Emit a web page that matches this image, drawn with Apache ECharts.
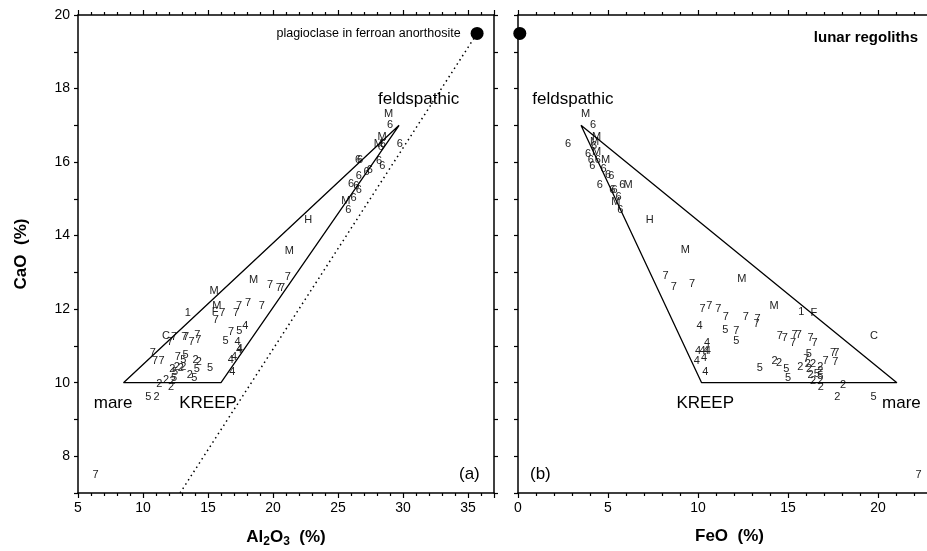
<!DOCTYPE html>
<html>
<head>
<meta charset="utf-8">
<script src="https://cdn.jsdelivr.net/npm/echarts@6/dist/echarts.min.js"></script>
<style>
  html, body { margin: 0; padding: 0; background: #fff; }
  #chart { width: 927px; height: 551px; }
</style>
</head>
<body>
<div id="chart"></div>
<script>
// (a) CaO vs Al2O3 : [Al2O3, CaO, sample code]
let leftPoints = [
    [28.9, 17.32, 'M'], [29.0, 17.02, '6'], [28.4, 16.68, 'M'], [28.1, 16.5, 'M'],
    [28.45, 16.5, '6'], [29.75, 16.48, '6'], [28.3, 16.4, '6'], [26.55, 16.07, '6'],
    [26.7, 16.07, '6'], [28.15, 16.03, '6'], [28.4, 15.9, '6'], [26.6, 15.62, '6'],
    [27.2, 15.74, '6'], [27.45, 15.78, '6'], [26.0, 15.4, '6'], [26.4, 15.34, '6'],
    [26.6, 15.24, '6'], [26.2, 15.03, '6'], [25.6, 14.94, 'M'], [25.8, 14.7, '6'],
    [22.7, 14.43, 'H'], [21.25, 13.58, 'M'], [18.5, 12.8, 'M'], [21.13, 12.88, '7'],
    [19.77, 12.67, '7'], [20.45, 12.58, '7'], [20.7, 12.58, '7'], [15.46, 12.49, 'M'],
    [13.44, 11.9, '1'], [15.67, 12.1, 'M'], [15.55, 11.92, 'F'], [16.1, 11.89, '7'],
    [15.6, 11.7, '7'], [17.38, 12.1, '7'], [18.08, 12.16, '7'], [19.13, 12.1, '7'],
    [17.15, 11.89, '7'], [16.77, 11.39, '7'], [17.4, 11.42, '5'], [17.87, 11.53, '4'],
    [16.36, 11.13, '5'], [17.28, 11.1, '4'], [17.38, 10.89, '4'], [17.45, 10.92, '4'],
    [16.75, 10.62, '4'], [17.0, 10.69, '4'], [16.87, 10.28, '4'], [11.77, 11.28, 'C'],
    [12.38, 11.25, '7'], [12.08, 11.12, '7'], [13.18, 11.25, '7'], [13.32, 11.25, '7'],
    [13.74, 11.1, '7'], [14.18, 11.3, '7'], [14.25, 11.17, '7'], [10.75, 10.8, '7'],
    [10.92, 10.6, '7'], [11.43, 10.6, '7'], [12.67, 10.69, '7'], [13.28, 10.76, '5'],
    [13.1, 10.62, '5'], [14.05, 10.63, '2'], [14.3, 10.57, '2'], [12.26, 10.37, '2'],
    [12.6, 10.42, '2'], [12.9, 10.4, '2'], [13.1, 10.44, '2'], [14.13, 10.37, '5'],
    [15.15, 10.4, '5'], [13.6, 10.22, '2'], [13.95, 10.14, '5'], [12.46, 10.28, '5'],
    [12.38, 10.14, '5'], [11.26, 9.96, '2'], [11.77, 10.07, '2'], [12.15, 9.89, '2'],
    [12.28, 10.05, '2'], [10.41, 9.6, '5'], [11.05, 9.6, '2'], [6.36, 7.48, '7']
];
// (b) CaO vs FeO : [FeO, CaO, sample code]
let rightPoints = [
    [3.76, 17.32, 'M'], [4.17, 17.02, '6'], [2.78, 16.48, '6'], [4.36, 16.68, 'M'],
    [4.26, 16.55, 'M'], [4.22, 16.44, '6'], [4.36, 16.28, 'M'], [3.89, 16.21, '6'],
    [4.04, 16.05, '6'], [4.13, 15.89, '6'], [4.44, 16.07, '6'], [4.87, 16.07, 'M'],
    [4.76, 15.8, '6'], [5.0, 15.64, '6'], [5.19, 15.62, '6'], [4.54, 15.39, '6'],
    [5.8, 15.39, '6'], [6.11, 15.37, 'M'], [5.24, 15.23, '6'], [5.36, 15.23, '6'],
    [5.59, 15.05, '6'], [5.43, 14.91, 'M'], [5.69, 14.69, '6'], [7.32, 14.43, 'H'],
    [9.3, 13.6, 'M'], [8.2, 12.89, '7'], [8.65, 12.6, '7'], [9.67, 12.69, '7'],
    [12.44, 12.83, 'M'], [14.22, 12.08, 'M'], [10.26, 12.0, '7'], [10.63, 12.08, '7'],
    [11.13, 12.0, '7'], [11.54, 11.79, '7'], [12.65, 11.79, '7'], [13.31, 11.72, '7'],
    [13.26, 11.59, '7'], [15.74, 11.92, '1'], [16.43, 11.9, 'F'], [10.09, 11.53, '4'],
    [11.52, 11.43, '5'], [12.13, 11.41, '7'], [12.13, 11.14, '5'], [14.54, 11.28, '7'],
    [14.82, 11.21, '7'], [15.37, 11.31, '7'], [15.6, 11.31, '7'], [15.28, 11.07, '7'],
    [16.26, 11.21, '7'], [16.48, 11.07, '7'], [19.78, 11.28, 'C'], [10.5, 11.08, '4'],
    [10.0, 10.85, '4'], [10.26, 10.85, '4'], [10.45, 10.87, '4'], [10.55, 10.85, '4'],
    [9.94, 10.6, '4'], [10.33, 10.67, '4'], [10.41, 10.28, '4'], [13.43, 10.39, '5'],
    [14.26, 10.6, '2'], [14.5, 10.55, '2'], [14.9, 10.37, '5'], [15.0, 10.14, '5'],
    [15.69, 10.42, '2'], [16.15, 10.78, '5'], [16.02, 10.65, '7'], [16.1, 10.51, '2'],
    [16.39, 10.51, '2'], [16.8, 10.44, '2'], [16.17, 10.37, '2'], [16.25, 10.22, '2'],
    [16.6, 10.24, '5'], [16.8, 10.33, '2'], [16.8, 10.19, '5'], [16.39, 10.05, '2'],
    [16.82, 9.89, '2'], [16.8, 10.05, '2'], [17.08, 10.6, '7'], [17.5, 10.8, '7'],
    [17.69, 10.8, '7'], [17.63, 10.57, '7'], [18.06, 9.93, '2'], [17.74, 9.6, '2'],
    [19.76, 9.62, '5'], [22.26, 7.49, '7']
];

// mixing triangles (feldspathic - mare - KREEP)
let leftTriangle = [[29.7, 17.0], [8.5, 10.0], [16.0, 10.0], [29.7, 17.0]];
let rightTriangle = [[3.5, 17.0], [10.2, 10.0], [21.05, 10.0], [3.5, 17.0]];
// plagioclase line in (a)
let plagLine = [[12.85, 7.0], [35.7, 19.5]];
let plagLeft = [[35.7, 19.5]];
let plagRight = [[0.1, 19.5]];

let leftNotes = [[31.2, 17.71, 'feldspathic'], [7.7, 9.43, 'mare'], [15.0, 9.43, 'KREEP']];
let rightNotes = [[3.05, 17.71, 'feldspathic'], [10.4, 9.45, 'KREEP'], [21.3, 9.45, 'mare']];

var chart = echarts.init(document.getElementById('chart'));
let sans = 'Liberation Sans, Arial, sans-serif';
let comic = 'Comic Sans MS, Liberation Sans, sans-serif';

let xAxisBase = function(grid, min, max, pos, labels) {
    return {
        type: 'value', gridIndex: grid, min: min, max: max, interval: 5, position: pos,
        axisLine: { show: true, onZero: false, lineStyle: { color: '#000', width: 1.5 } },
        axisTick: { show: true, inside: false, length: 5, lineStyle: { color: '#000', width: 1.2 } },
        minorTick: { show: true, splitNumber: 5, length: 3, lineStyle: { color: '#000', width: 1.2 } },
        splitLine: { show: false },
        axisLabel: {
            show: labels, margin: 8, fontSize: 14, color: '#000', fontFamily: sans,
            formatter: v => (v % 5 === 0 ? v : '')
        }
    };
};
let yAxisBase = function(grid, pos, labels) {
    return {
        type: 'value', gridIndex: grid, min: 7, max: 20, interval: 1, position: pos,
        axisLine: { show: true, onZero: false, lineStyle: { color: '#000', width: 1.5 } },
        axisTick: { show: true, inside: false, length: 4, lineStyle: { color: '#000', width: 1.2 } },
        splitLine: { show: false },
        axisLabel: {
            show: labels, margin: 8, fontSize: 14, color: '#000', fontFamily: sans,
            formatter: v => (v % 2 === 0 ? v : '')
        }
    };
};

let xa = xAxisBase(0, 5, 37, 'bottom', true);
xa.name = 'Al{sub|2}O{sub|3}  (%)';
xa.nameLocation = 'middle';
xa.nameGap = 33;
xa.nameTextStyle = {
    fontSize: 17, fontWeight: 'bold', color: '#000', fontFamily: sans,
    rich: { sub: { fontSize: 12, fontWeight: 'bold', fontFamily: sans, color: '#000', padding: [10, 0, 0, 0] } }
};
let xb = xAxisBase(1, 0, 23.5, 'bottom', true);
xb.name = 'FeO  (%)';
xb.nameLocation = 'middle';
xb.nameGap = 35;
xb.nameTextStyle = { fontSize: 17, fontWeight: 'bold', color: '#000', fontFamily: sans };
let ya = yAxisBase(0, 'left', true);
ya.name = 'CaO  (%)';
ya.nameLocation = 'middle';
ya.nameGap = 48;
ya.nameTextStyle = { fontSize: 17, fontWeight: 'bold', color: '#000', fontFamily: sans };

let codeLabel = {
    show: true, position: 'inside', formatter: p => p.value[2],
    fontSize: 11, color: '#222', fontFamily: sans
};
let noteLabel = {
    show: true, position: 'inside', formatter: p => p.value[2],
    fontSize: 17, color: '#000', fontFamily: comic
};
let hidden = { color: 'rgba(0,0,0,0)', opacity: 1 };

option = {
    animation: false,
    backgroundColor: '#fff',
    grid: [
        { left: 78, top: 15, width: 416, height: 478, outerBoundsMode: 'none', containLabel: false },
        { left: 518, top: 15, width: 423, height: 478, outerBoundsMode: 'none', containLabel: false }
    ],
    xAxis: [xa, xAxisBase(0, 5, 37, 'top', false), xb, xAxisBase(1, 0, 23.5, 'top', false)],
    yAxis: [ya, yAxisBase(0, 'right', false), yAxisBase(1, 'left', false)],
    graphic: [
        { type: 'text', right: 9, top: 30, style: { text: 'lunar regoliths', fontSize: 15, fontWeight: 'bold', fill: '#000', fontFamily: sans } },
        { type: 'text', left: 459, top: 466, style: { text: '(a)', fontSize: 17, fill: '#000', fontFamily: sans } },
        { type: 'text', left: 530, top: 466, style: { text: '(b)', fontSize: 17, fill: '#000', fontFamily: sans } }
    ],
    series: [
        {
            type: 'line', xAxisIndex: 0, yAxisIndex: 0, data: plagLine, showSymbol: false, silent: true,
            lineStyle: { color: '#000', width: 1.5, type: [1.5, 3.5] }
        },
        {
            type: 'line', xAxisIndex: 0, yAxisIndex: 0, data: leftTriangle, showSymbol: false, silent: true,
            lineStyle: { color: '#000', width: 1.3 }
        },
        {
            type: 'line', xAxisIndex: 2, yAxisIndex: 2, data: rightTriangle, showSymbol: false, silent: true,
            lineStyle: { color: '#000', width: 1.3 }
        },
        {
            type: 'scatter', xAxisIndex: 0, yAxisIndex: 0, data: leftPoints, symbolSize: 1,
            itemStyle: hidden, label: codeLabel
        },
        {
            type: 'scatter', xAxisIndex: 2, yAxisIndex: 2, data: rightPoints, symbolSize: 1,
            itemStyle: hidden, label: codeLabel
        },
        {
            type: 'scatter', xAxisIndex: 0, yAxisIndex: 0, data: plagLeft, symbolSize: 13,
            itemStyle: { color: '#000', opacity: 1 },
            label: {
                show: true, position: 'left', distance: 10, formatter: 'plagioclase in ferroan anorthosite',
                fontSize: 12.5, color: '#000', fontFamily: comic
            }
        },
        {
            type: 'scatter', xAxisIndex: 2, yAxisIndex: 2, data: plagRight, symbolSize: 13,
            itemStyle: { color: '#000', opacity: 1 }
        },
        {
            type: 'scatter', xAxisIndex: 0, yAxisIndex: 0, data: leftNotes, symbolSize: 1,
            itemStyle: hidden, label: noteLabel
        },
        {
            type: 'scatter', xAxisIndex: 2, yAxisIndex: 2, data: rightNotes, symbolSize: 1,
            itemStyle: hidden, label: noteLabel
        }
    ]
};
chart.setOption(option);
</script>
</body>
</html>
